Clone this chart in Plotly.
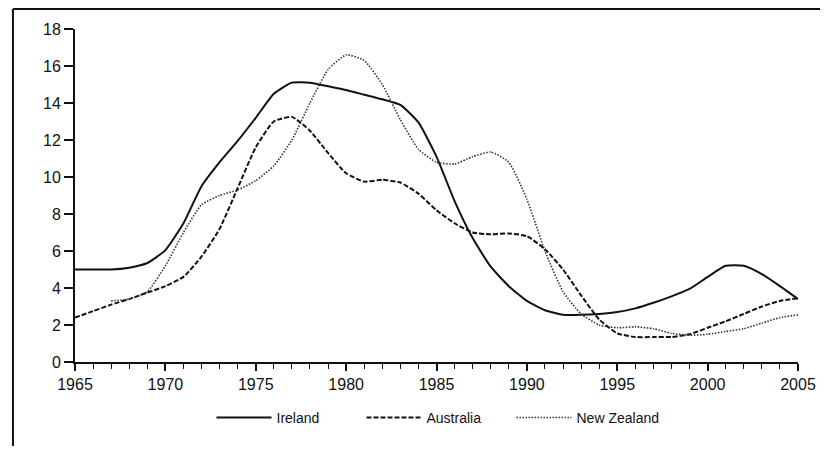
import plotly.graph_objects as go

years = list(range(1965, 2006))

ireland = [5.0, 5.0, 5.0, 5.1, 5.35, 6.05, 7.5, 9.5, 10.8, 11.95, 13.2, 14.5, 15.1, 15.1, 14.9,
           14.7, 14.45, 14.2, 13.9, 12.95, 11.1, 8.7, 6.7, 5.15, 4.1, 3.3, 2.8, 2.55, 2.55, 2.6,
           2.7, 2.9, 3.2, 3.55, 3.95, 4.6, 5.2, 5.2, 4.75, 4.1, 3.4]

australia = [2.4, 2.75, 3.1, 3.4, 3.75, 4.1, 4.6, 5.7, 7.2, 9.4, 11.6, 13.0, 13.25, 12.5, 11.3,
             10.2, 9.75, 9.85, 9.7, 9.1, 8.2, 7.5, 7.0, 6.9, 6.95, 6.8, 6.1, 5.0, 3.6, 2.3,
             1.55, 1.35, 1.35, 1.35, 1.5, 1.85, 2.2, 2.6, 3.0, 3.3, 3.45]

new_zealand = [None, None, 3.3, 3.4, 3.8, 5.2, 7.0, 8.5, 9.0, 9.3, 9.8, 10.6, 12.0, 14.0, 15.8,
               16.6, 16.3, 15.0, 13.1, 11.5, 10.8, 10.7, 11.1, 11.35, 10.8, 8.8, 6.0, 3.8, 2.6, 2.0,
               1.85, 1.9, 1.8, 1.55, 1.45, 1.5, 1.65, 1.8, 2.1, 2.4, 2.55]

series_names = ["Ireland", "Australia", "New Zealand"]
x_ticks = [1965, 1970, 1975, 1980, 1985, 1990, 1995, 2000, 2005]
y_ticks = [0, 2, 4, 6, 8, 10, 12, 14, 16, 18]

FONT = "Liberation Sans, Arial, sans-serif"

fig = go.Figure()
fig.add_trace(go.Scatter(x=years, y=ireland, name=series_names[0], mode="lines",
                         line=dict(color="#111111", width=2, shape="spline", smoothing=0.5)))
fig.add_trace(go.Scatter(x=years, y=australia, name=series_names[1], mode="lines",
                         line=dict(color="#111111", width=2, dash="5px,2px", shape="spline", smoothing=0.5)))
fig.add_trace(go.Scatter(x=years, y=new_zealand, name=series_names[2], mode="lines",
                         line=dict(color="#333333", width=1.6, dash="1.5px,1.5px", shape="spline", smoothing=0.5)))

fig.update_layout(
    template="none",
    width=812, height=438,
    margin=dict(l=67, r=22, t=21, b=84, autoexpand=False),
    paper_bgcolor="white", plot_bgcolor="white",
    font=dict(family=FONT, size=15, color="#111111"),
    showlegend=True,
    legend=dict(orientation="h", x=0.5, xanchor="center", y=-0.168, yanchor="middle",
                font=dict(size=14, family=FONT), itemwidth=55,
                entrywidth=80, entrywidthmode="pixels", bgcolor="rgba(0,0,0,0)"),
    xaxis=dict(range=[1965, 2005], tickvals=x_ticks, ticks="outside", ticklen=7, tickwidth=1.5,
               tickcolor="#111111", showline=True, linecolor="#111111", linewidth=2,
               showgrid=False, zeroline=False, tickfont=dict(size=16), automargin=False,
               minor=dict(dtick=1, tick0=1965, ticks="outside", ticklen=5, tickwidth=1.2,
                          tickcolor="#111111", showgrid=False)),
    yaxis=dict(range=[0, 18], tickvals=y_ticks, ticks="outside", ticklen=9, tickwidth=1.5,
               tickcolor="#111111", showline=True, linecolor="#111111", linewidth=2,
               showgrid=False, zeroline=False, tickfont=dict(size=16), automargin=False),
    shapes=[
        dict(type="line", xref="paper", yref="paper", x0=-0.0858, x1=1.2, y0=1.06, y1=1.06,
             line=dict(color="#111111", width=2)),
        dict(type="line", xref="paper", yref="paper", x0=-0.0858, x1=-0.0858, y0=1.06, y1=-0.4,
             line=dict(color="#111111", width=2)),
    ],
)

fig.write_html("out.html")
